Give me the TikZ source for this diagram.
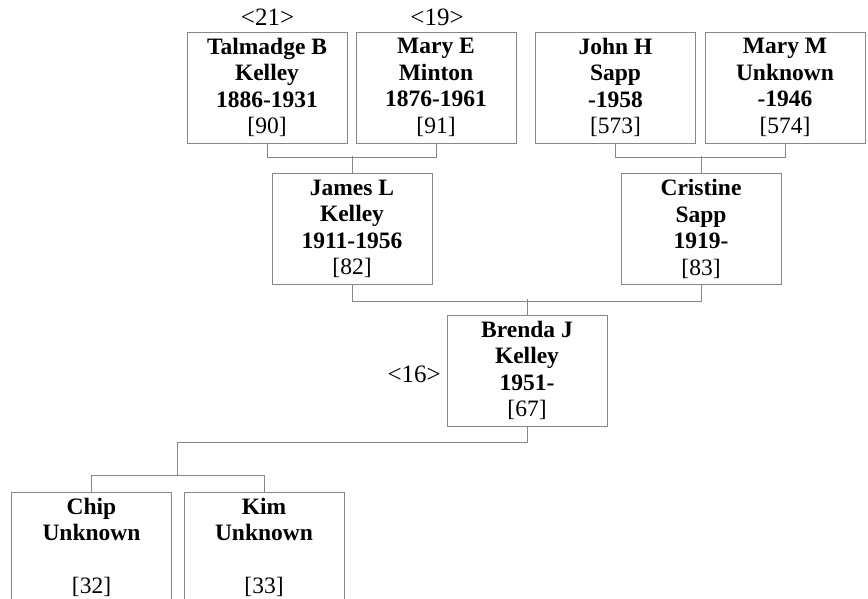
\documentclass[tikz,border=0pt]{standalone}
\usepackage{fontspec}
\setmainfont{Liberation Serif}
\usetikzlibrary{calc}
\begin{document}
\begin{tikzpicture}[x=1pt,y=-1pt,
  person/.style={draw=black!47, line width=1pt, minimum width=160pt, minimum height=111pt,
    inner sep=0pt, align=center, font=\fontsize{23.5}{26.5}\selectfont},
  conn/.style={draw=black!47, line width=1pt},
  lbl/.style={inner sep=0pt, font=\fontsize{25}{28}\selectfont}]
\path[use as bounding box] (0,0) rectangle (868,598);
\clip (0,0) rectangle (868,598);
% generation 1
\node[person] (tal) at (267,87.5) {\textbf{Talmadge B}\\\textbf{Kelley}\\\textbf{1886-1931}\\{[90]}};
\node[person] (marye) at (436,87.5) {\textbf{Mary E}\\\textbf{Minton}\\\textbf{1876-1961}\\{[91]}};
\node[person] (john) at (615.5,87.5) {\textbf{John H}\\\textbf{Sapp}\\\textbf{-1958}\\{[573]}};
\node[person] (marym) at (785,87.5) {\textbf{Mary M}\\\textbf{Unknown}\\\textbf{-1946}\\{[574]}};
% generation 2
\node[person] (james) at (352,229) {\textbf{James L}\\\textbf{Kelley}\\\textbf{1911-1956}\\{[82]}};
\node[person] (cris) at (701,229) {\textbf{Cristine}\\\textbf{Sapp}\\\textbf{1919-}\hspace*{.25em}\\{[83]}};
% generation 3
\node[person] (brenda) at (527,370.5) {\textbf{Brenda J}\\\textbf{Kelley}\\\textbf{1951-}\hspace*{.25em}\\{[67]}};
% children
\node[person] (chip) at (91.5,547.5) {\textbf{Chip}\\\textbf{Unknown}\\\mbox{}\\{[32]}};
\node[person] (kim) at (264,547.5) {\textbf{Kim}\\\textbf{Unknown}\\\mbox{}\\{[33]}};
% labels
\node[lbl, anchor=base] (l21) at (267.5,25) {<21>};
\node[lbl, anchor=base] (l19) at (437,25) {<19>};
\node[lbl, anchor=base east] (l16) at (441,382) {<16>};
% connectors
\draw[conn] (tal.south) -- ++(0,14) -| (marye.south);
\draw[conn] (james.north) -- ++(0,-17);
\draw[conn] (john.south) -- ++(0,14) -| (marym.south);
\draw[conn] (cris.north) -- ++(0,-17);
\draw[conn] (james.south) -- ++(0,16) -| (cris.south);
\draw[conn] (brenda.north) -- ++(0,-16);
\draw[conn] (chip.north) -- ++(0,-16) -| (kim.north);
\draw[conn] (brenda.south) -- ++(0,16) -| ($(chip.north)!.5!(kim.north)+(0,-16)$);
\end{tikzpicture}
\end{document}
